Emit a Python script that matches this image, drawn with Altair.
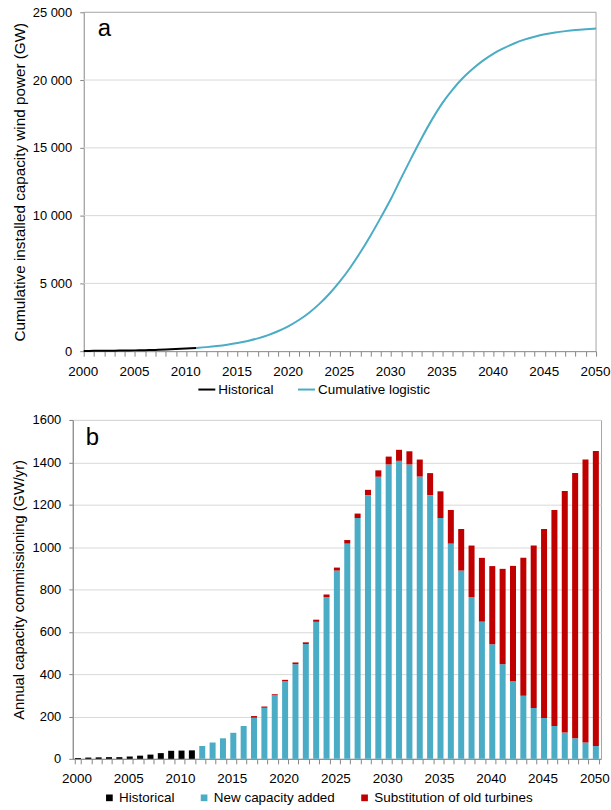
import altair as alt
import pandas as pd

FONT = "Liberation Sans"
BLUE = "#4BACC6"
RED = "#C00000"
BLACK = "#000000"
FRAME = "#a6a6a6"
GRID = "#d9d9d9"

# --- panel a: cumulative installed capacity (GW) ---
hist_years = list(range(2000, 2012))
hist_cumulative = [17, 24, 31, 39, 48, 59, 74, 94, 121, 159, 198, 238]

logistic_years = list(range(2011, 2051))
logistic_cumulative = [
    238, 299, 376, 473, 596, 751, 945, 1186, 1486, 1852,
    2299, 2841, 3488, 4252, 5141, 6157, 7294, 8539, 9871, 11261,
    12800, 14300, 15750, 17100, 18300, 19300, 20150, 20850, 21450, 21950,
    22350, 22700, 22980, 23200, 23380, 23510, 23610, 23690, 23750, 23800,
]

top_ticks = [0, 5000, 10000, 15000, 20000, 25000]

# --- panel b: annual capacity commissioning (GW/yr) ---
hist_annual = [4, 6, 7, 8, 8, 11, 15, 20, 27, 38, 39, 40]

new_years = list(range(2012, 2051))
new_capacity = [
    61, 77, 97, 123, 155, 194, 241, 300, 366, 447,
    542, 647, 764, 889, 1016, 1137, 1245, 1332, 1390, 1407,
    1390, 1333, 1245, 1137, 1016, 889, 764, 648, 541, 447,
    366, 298, 240, 193, 155, 124, 97, 77, 61,
]

subst_years = list(range(2017, 2051))
substitution = [
    8, 6, 5, 7, 8, 8, 10, 12, 14, 17,
    21, 25, 30, 37, 52, 62, 80, 104, 126, 159,
    196, 243, 301, 369, 450, 545, 651, 767, 892, 1020,
    1140, 1252, 1336, 1392,
]

bottom_ticks = list(range(0, 1601, 200))

line_series = ["Historical", "Cumulative logistic"]
bar_series = ["Historical", "New capacity added", "Substitution of old turbines"]
all_years = list(range(2000, 2051))
first_year, last_year = all_years[0], all_years[-1]

line_df = pd.concat([
    pd.DataFrame({"year": hist_years, "gw": hist_cumulative, "series": line_series[0]}),
    pd.DataFrame({"year": logistic_years, "gw": logistic_cumulative, "series": line_series[1]}),
])

bar_df = pd.concat([
    pd.DataFrame({"year": hist_years, "gw": hist_annual, "series": bar_series[0], "ord": 0}),
    pd.DataFrame({"year": new_years, "gw": new_capacity, "series": bar_series[1], "ord": 1}),
    pd.DataFrame({"year": subst_years, "gw": substitution, "series": bar_series[2], "ord": 2}),
])

# horizontal grid lines and the top edge of the frame of panel a
grid_df = pd.DataFrame({
    "year": first_year,
    "end": last_year,
    "gw": top_ticks[1:],
    "edge": [False] * (len(top_ticks) - 2) + [True],
})
# right edge of the frame of panel a
edge_df = pd.DataFrame({"year": [last_year], "gw": [top_ticks[0]], "high": [top_ticks[-1]]})

# the plotting area of panel a is inset from the group so that its
# y axis sits to the right of the y axis of panel b
INSET = 11
TOP_W = 525

x_top = alt.Scale(domain=[first_year, last_year], range=[INSET, TOP_W], nice=False)
y_top = alt.Scale(domain=[top_ticks[0], top_ticks[-1]], nice=False)

x_top_axis = alt.Axis(
    title=None, values=all_years,
    labelExpr="datum.value % 5 == 0 ? '' + datum.value : ''",
    labelFlush=False, labelOverlap=False, grid=False, tickSize=5,
    labelFontSize=13.5, labelOffset=-1,
)
y_top_axis = alt.Axis(
    title="Cumulative installed capacity wind power (GW)",
    titleFontSize=15.3, titlePadding=5,
    values=top_ticks, grid=False, offset=-INSET,
    labelExpr="replace(format(datum.value, ','), ',', ' ')",
)

x_enc = alt.X("year:Q", scale=x_top, axis=x_top_axis)
y_enc = alt.Y("gw:Q", scale=y_top, axis=y_top_axis)

grid_rules = alt.Chart(grid_df).mark_rule(strokeWidth=1).encode(
    x=x_enc,
    x2="end:Q",
    y=y_enc,
    color=alt.condition("datum.edge", alt.value(FRAME), alt.value(GRID)),
)

edge_rule = alt.Chart(edge_df).mark_rule(strokeWidth=1, color=FRAME).encode(
    x=x_enc,
    y=y_enc,
    y2="high:Q",
)

lines = alt.Chart(line_df).mark_line(strokeWidth=2, interpolate="monotone").encode(
    x=x_enc,
    y=y_enc,
    color=alt.Color(
        "series:N",
        sort=line_series,
        scale=alt.Scale(domain=line_series, range=[BLACK, BLUE]),
        legend=alt.Legend(
            title=None, orient="none", direction="horizontal",
            legendX=125, legendY=369, symbolType="stroke",
            symbolStrokeWidth=2, symbolSize=289, columnPadding=20, labelOffset=2,
        ),
    ),
)

letter_a = alt.Chart(pd.DataFrame({"panel": ["a"]})).mark_text(
    fontSize=24, align="left", baseline="alphabetic", font=FONT, color=BLACK
).encode(x=alt.value(INSET + 14), y=alt.value(24), text="panel:N")

top = alt.layer(grid_rules, edge_rule, lines, letter_a).properties(
    width=TOP_W, height=340, view=alt.ViewBackground(strokeOpacity=0)
)

bars = alt.Chart(bar_df).mark_bar().encode(
    x=alt.X(
        "year:O",
        scale=alt.Scale(domain=all_years, paddingInner=0.42, paddingOuter=0.21),
        axis=alt.Axis(
            title=None, labelAngle=0, labelExpr="datum.value % 5 == 0 ? datum.label : ''",
            tickBand="extent", labelOverlap=False, tickSize=5,
            labelFontSize=13.5, labelOffset=-1.5,
        ),
    ),
    y=alt.Y(
        "gw:Q",
        stack="zero",
        scale=alt.Scale(domain=[bottom_ticks[0], bottom_ticks[-1]], nice=False),
        axis=alt.Axis(
            title="Annual capacity commissioning (GW/yr)",
            titleFontSize=14.7,
            values=bottom_ticks, format="d",
        ),
    ),
    color=alt.Color(
        "series:N",
        sort=bar_series,
        scale=alt.Scale(domain=bar_series, range=[BLACK, BLUE, RED]),
        legend=alt.Legend(
            title=None, orient="none", direction="horizontal",
            legendX=30, legendY=372, symbolType="square",
            symbolSize=45, columnPadding=22, labelOffset=3,
        ),
    ),
    order=alt.Order("ord:Q"),
)

letter_b = alt.Chart(pd.DataFrame({"panel": ["b"]})).mark_text(
    fontSize=24, align="left", baseline="alphabetic", font=FONT, color=BLACK
).encode(x=alt.value(13), y=alt.value(25), text="panel:N")

bottom = alt.layer(bars, letter_b).properties(width=530, height=340)

chart = (
    alt.concat(top, bottom, columns=1, spacing=17)
    .properties(padding={"left": 10, "top": 5, "right": 0, "bottom": 0})
    .resolve_scale(color="independent")
    .configure(font=FONT)
    .configure_axis(
        labelFont=FONT, titleFont=FONT, labelFontSize=13, titleFontSize=14.5,
        titleFontWeight="normal", labelColor="#000000", titleColor="#000000",
        domainColor="#868686", tickColor="#868686", gridColor=GRID,
        tickSize=4, labelPadding=8, titlePadding=6,
    )
    .configure_view(stroke=FRAME)
    .configure_legend(labelFont=FONT, labelFontSize=13.5, labelColor="#000000")
)

chart.save("out.html", embed_options={"renderer": "svg", "actions": False})
